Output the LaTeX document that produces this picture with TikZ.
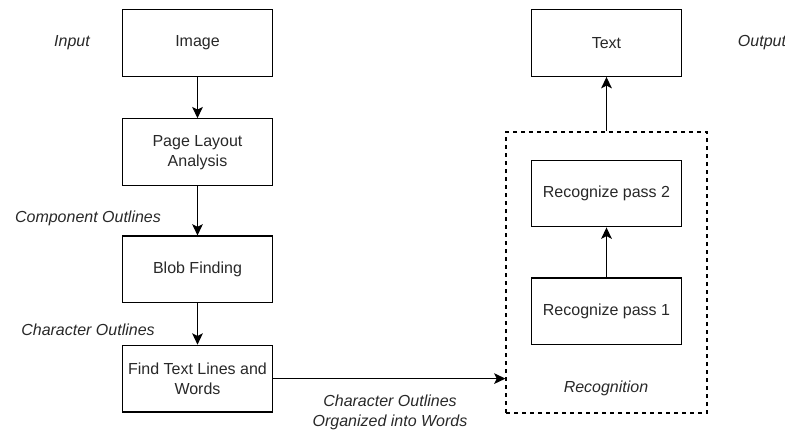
\documentclass[tikz,border=0pt]{standalone}
\usepackage{fontspec}
\setmainfont{Liberation Sans}
\usepackage{tikz}
\usetikzlibrary{arrows.meta, positioning}
\definecolor{ocrgray}{RGB}{40, 40, 40}

\begin{document}
\begin{tikzpicture}[
  x=0.75pt, y=-0.75pt,
  node distance=31pt,
  stage/.style={
    rectangle, draw=black, line width=0.9pt,
    minimum width=113pt, minimum height=50pt,
    text centered, align=center, text=ocrgray,
    font=\fontsize{12}{15}\selectfont
  },
  tag/.style={font=\fontsize{12}{15}\selectfont\itshape, text=ocrgray, align=center},
  flow/.style={-{Stealth[length=8.5pt, width=8pt, inset=2pt]}, line width=0.9pt}
]
  \useasboundingbox (0,0) rectangle (785,430);

  % left column
  \node[stage] (img) at (197.5,43) {Image};
  \node[stage, below=31pt of img] (layout) {Page Layout\\Analysis};
  \node[stage, below=37pt of layout] (blob) {Blob Finding};
  \node[stage, below=31pt of blob] (lines) {Find Text Lines and\\Words};

  % right column
  \node[stage] (txt) at (606.5,43) {Text};
  \node[stage] (pass2) at (606.5,193.5) {Recognize pass 2};
  \node[stage, below=37.5pt of pass2] (pass1) {Recognize pass 1};
  \node[draw, dashed, line width=0.8pt, minimum width=150.75pt, minimum height=210.75pt] (recog) at (606.5,272.5) {};
  \node[tag] (reclabel) at (606,388) {Recognition};

  % side labels
  \node[tag] (inlabel) at (72,43) {Input};
  \node[tag] (outlabel) at (762,43) {Output};
  \node[tag] (complabel) at (88,218) {Component Outlines};
  \node[tag] (charlabel) at (88,330) {Character Outlines};
  \node[tag] (wordlabel) at (390,412) {Character Outlines\\Organized into Words};

  \draw[flow] (img)--(layout);
  \draw[flow] (layout)--(blob);
  \draw[flow] (blob)--(lines);
  \draw[flow] (lines.east)--(lines.east -| recog.west);
  \draw[flow] (pass1)--(pass2);
  \draw[flow] (recog.north)--(txt.south);
\end{tikzpicture}
\end{document}
